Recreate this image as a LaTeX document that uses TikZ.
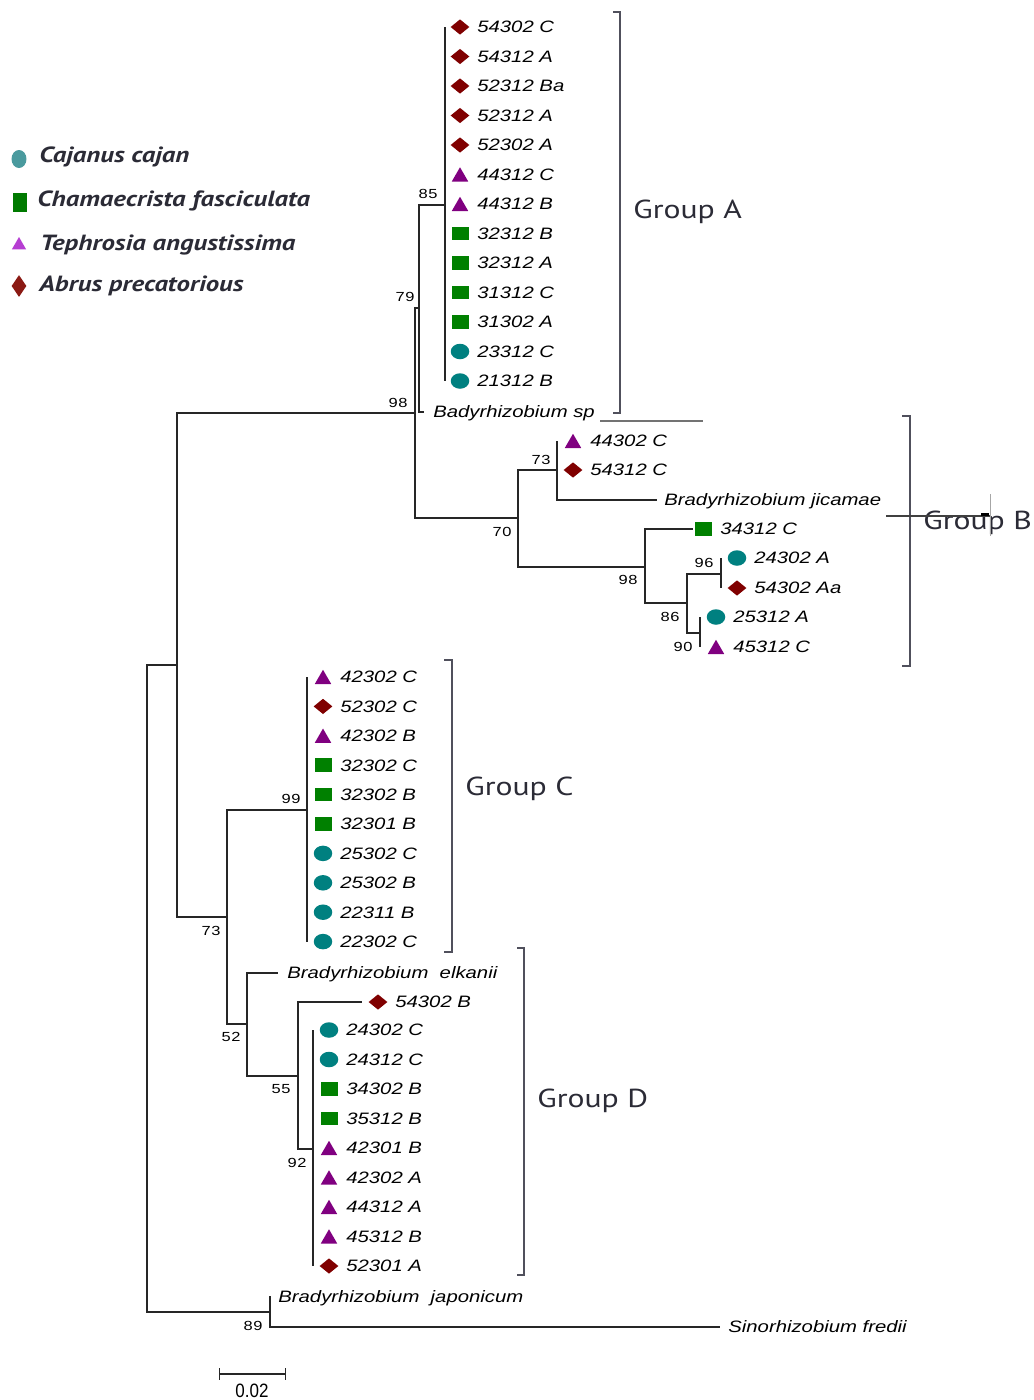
\documentclass[tikz,border=0pt]{standalone}
\usepackage{fontspec}
\setmainfont{Liberation Sans}[FakeStretch=1.23]
\newfontfamily\bootfont{Liberation Sans}[FakeStretch=1.25,LetterSpace=5]
\newfontfamily\barfont{Liberation Sans}[FakeStretch=0.88]
\newfontfamily\grpfont{PT Sans}[FakeStretch=1.22]
\usepackage{tikz}
\usetikzlibrary{shapes.geometric,positioning,calc}
\definecolor{diared}{RGB}{128,0,0}
\definecolor{tripurple}{RGB}{128,0,128}
\definecolor{sqgreen}{RGB}{0,128,0}
\definecolor{cirteal}{RGB}{0,128,128}
\definecolor{legteal}{RGB}{74,154,158}
\definecolor{legmagenta}{RGB}{182,62,210}
\definecolor{legred}{RGB}{139,26,20}
\definecolor{inkgray}{RGB}{43,43,54}
\definecolor{bracketgray}{RGB}{80,80,92}

\begin{document}
\begin{tikzpicture}[x=0.02cm, y=-0.02cm]
    \tikzstyle{branch} = [line width=0.6pt, draw=black!85]
    \tikzstyle{comb} = [line width=1pt, draw=black!85]
    \tikzstyle{leaf} = [anchor=west, inner sep=0, font=\itshape\fontsize{9.4}{11}\selectfont, text height=6.7pt, text depth=0pt]
    \tikzstyle{boot} = [inner sep=0, font=\bootfont\fontsize{7.5}{9}\selectfont]
    \tikzstyle{grp} = [anchor=base west, inner sep=0, text=inkgray, font=\grpfont\fontsize{14.8}{17}\selectfont]
    \tikzstyle{legtext} = [anchor=west, inner sep=0, text=inkgray, font=\grpfont\bfseries\itshape\fontsize{12.5}{15}\selectfont]
    \tikzstyle{bracket} = [line width=0.6pt, draw=bracketgray]
    \tikzstyle{dia} = [diamond, fill=diared, inner sep=0, minimum width=0.38cm, minimum height=0.31cm]
    \tikzstyle{tri} = [regular polygon, regular polygon sides=3, fill=tripurple, inner sep=0, minimum size=0.38cm, yshift=-0.045cm]
    \tikzstyle{sq} = [rectangle, fill=sqgreen, inner sep=0, minimum width=0.34cm, minimum height=0.27cm]
    \tikzstyle{cir} = [ellipse, fill=cirteal, inner sep=0, minimum width=0.37cm, minimum height=0.31cm]

    \useasboundingbox[fill=white] (0,0) rectangle (1034,1400);

    % Legend
    \node[cir, fill=legteal, minimum width=0.3cm, minimum height=0.36cm] (kcaj) at (19,159) {};
    \node[legtext] (tcaj) at (39,157) {Cajanus cajan};
    \node[sq, fill=sqgreen!95!black, minimum width=0.28cm, minimum height=0.38cm] (kcha) at (20,202) {};
    \node[legtext] (tcha) at (37,201) {Chamaecrista fasciculata};
    \node[tri, fill=legmagenta, minimum size=0.33cm] (ktep) at (19,243) {};
    \node[legtext] (ttep) at (40,245) {Tephrosia angustissima};
    \node[dia, fill=legred, minimum width=0.3cm, minimum height=0.44cm] (kabr) at (19,286) {};
    \node[legtext] (tabr) at (39,286) {Abrus precatorious};

    % Group A
    \foreach \s/\t [count=\i] in {dia/54302 C, dia/54312 A, dia/52312 Ba, dia/52312 A, dia/52302 A, tri/44312 C, tri/44312 B, sq/32312 B, sq/32312 A, sq/31312 C, sq/31302 A, cir/23312 C, cir/21312 B}
    {
        \node[\s] (a\i) at (460,{27+29.5*(\i-1)}) {};
        \node[leaf] (la\i) at (477,{27+29.5*(\i-1)}) {\t};
    }
    \node[leaf] (lsp) at (433,412) {Badyrhizobium sp};

    % Group B
    \foreach \x/\y/\s/\t [count=\i] in {573/441/tri/44302 C, 573/470/dia/54312 C, 703/529/sq/34312 C, 737/558/cir/24302 A, 737/588/dia/54302 Aa, 716/617/cir/25312 A, 716/647/tri/45312 C}
    {
        \node[\s] (b\i) at (\x,\y) {};
        \node[leaf] (lb\i) at (\x+17,\y) {\t};
    }
    \node[leaf] (ljic) at (664,500) {Bradyrhizobium jicamae};

    % Group C
    \foreach \s/\t [count=\i] in {tri/42302 C, dia/52302 C, tri/42302 B, sq/32302 C, sq/32302 B, sq/32301 B, cir/25302 C, cir/25302 B, cir/22311 B, cir/22302 C}
    {
        \node[\s] (c\i) at (323,{677+29.4*(\i-1)}) {};
        \node[leaf] (lc\i) at (340,{677+29.4*(\i-1)}) {\t};
    }

    % Group D
    \node[dia] (d0) at (378,1002) {};
    \node[leaf] (ld0) at (395,1002) {54302 B};
    \foreach \s/\t [count=\i] in {cir/24302 C, cir/24312 C, sq/34302 B, sq/35312 B, tri/42301 B, tri/42302 A, tri/44312 A, tri/45312 B, dia/52301 A}
    {
        \node[\s] (d\i) at (329,{1030+29.5*(\i-1)}) {};
        \node[leaf] (ld\i) at (346,{1030+29.5*(\i-1)}) {\t};
    }
    \node[leaf] (lelk) at (287,973) {Bradyrhizobium\ \ elkanii};
    \node[leaf] (ljap) at (278,1297) {Bradyrhizobium\ \ japonicum};
    \node[leaf] (lfre) at (728,1327) {Sinorhizobium fredii};

    % Inner nodes
    \coordinate (root) at (147,990);
    \coordinate (n0) at (177,665);
    \coordinate (n89) at (270,1312);
    \coordinate (n98a) at (415,413);
    \coordinate (n73c) at (227,917);
    \coordinate (n79) at (419,308);
    \coordinate (n85) at (445,205);
    \coordinate (spend) at (424,412);
    \coordinate (n70) at (518,518);
    \coordinate (n73b) at (557,470);
    \coordinate (jicend) at (657,500);
    \coordinate (n98b) at (645,567);
    \coordinate (b3end) at (693,529);
    \coordinate (n86) at (687,603);
    \coordinate (n96) at (721,574);
    \coordinate (n90) at (700,633);
    \coordinate (n99) at (307,810);
    \coordinate (n52) at (247,1024);
    \coordinate (elkend) at (278,973);
    \coordinate (n55) at (298,1076);
    \coordinate (d0end) at (362,1002);
    \coordinate (n92) at (313,1149);
    \coordinate (japend) at (271,1297);
    \coordinate (fredend) at (720,1327);

    % Branches
    \draw[branch] (root) |- (n0);
    \draw[branch] (root) |- (n89);
    \draw[branch] (n0) |- (n98a);
    \draw[branch] (n0) |- (n73c);
    \draw[branch] (n98a) |- (n79);
    \draw[branch] (n98a) |- (n70);
    \draw[branch] (n79) |- (n85);
    \draw[branch] (n79) |- (spend);
    \draw[comb] (la1 -| n85) -- (la13 -| n85);
    \draw[branch] (n70) |- (n73b);
    \draw[branch] (n70) |- (n98b);
    \draw[comb] (lb1 -| n73b) |- (jicend);
    \draw[branch] (n98b) |- (b3end);
    \draw[branch] (n98b) |- (n86);
    \draw[branch] (n86) |- (n96);
    \draw[branch] (n86) |- (n90);
    \draw[comb] (lb4 -| n96) -- (lb5 -| n96);
    \draw[comb] (lb6 -| n90) -- (lb7 -| n90);
    \draw[branch] (n73c) |- (n99);
    \draw[branch] (n73c) |- (n52);
    \draw[comb] (lc1 -| n99) -- (lc10 -| n99);
    \draw[branch] (n52) |- (elkend);
    \draw[branch] (n52) |- (n55);
    \draw[branch] (n55) |- (d0end);
    \draw[branch] (n55) |- (n92);
    \draw[comb] (ld1 -| n92) -- (ld9 -| n92);
    \draw[branch] (n89) |- (japend);
    \draw[branch] (n89) |- (fredend);

    % Bootstrap values
    \node[boot] (v85) at (428,194) {85};
    \node[boot] (v79) at (405,297) {79};
    \node[boot] (v98a) at (398,403) {98};
    \node[boot] (v70) at (502,532) {70};
    \node[boot] (v73b) at (541,460) {73};
    \node[boot] (v98b) at (628,580) {98};
    \node[boot] (v86) at (670,617) {86};
    \node[boot] (v96) at (704,563) {96};
    \node[boot] (v90) at (683,647) {90};
    \node[boot] (v99) at (291,799) {99};
    \node[boot] (v73c) at (211,931) {73};
    \node[boot] (v52) at (231,1037) {52};
    \node[boot] (v55) at (281,1089) {55};
    \node[boot] (v92) at (297,1163) {92};
    \node[boot] (v89) at (253,1326) {89};

    % Groups
    \coordinate (gAt) at (613,12); \coordinate (gAb) at (613,413);
    \coordinate (gBt) at (902,416); \coordinate (gBb) at (902,666);
    \coordinate (gCt) at (444,660); \coordinate (gCb) at (444,952);
    \coordinate (gDt) at (517,948); \coordinate (gDb) at (517,1275);
    \draw[bracket] (gAt) -- ++(7,0) |- (gAb);
    \draw[bracket] (gBt) -- ++(8,0) |- (gBb);
    \draw[bracket] (gCt) -- ++(8,0) |- (gCb);
    \draw[bracket] (gDt) -- ++(7,0) |- (gDb);
    \node[grp] (gA) at (633,218) {Group A};
    \node[grp] (gB) at (923,529) {Group B};
    \node[grp] (gC) at (465,795) {Group C};
    \node[grp] (gD) at (537,1107) {Group D};

    % Stray strokes
    \coordinate (s1) at (600,421); \coordinate (s2) at (703,421);
    \coordinate (s3) at (886,516); \coordinate (s4) at (990,516);
    \draw[line width=0.6pt, black!55] (s1) -- (s2);
    \draw[line width=0.8pt, black!75] (s3) -- (s4);
    \draw[line width=0.4pt, black!35] (990,494) -- (990,536);
    \fill (981,513) rectangle (989,516);

    % Scale bar
    \coordinate (sbl) at (219,1374); \coordinate (sbr) at (286,1374);
    \draw[branch, |-|] (sbl) -- (sbr);
    \node[inner sep=0, font=\barfont\fontsize{11}{13}\selectfont] (sblab) at (252,1391) {0.02};
\end{tikzpicture}
\end{document}
